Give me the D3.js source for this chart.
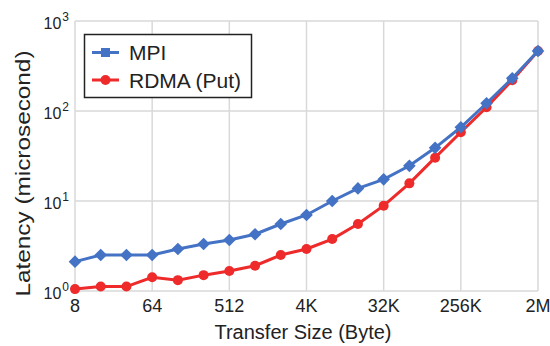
<!DOCTYPE html>
<html><head><meta charset="utf-8">
<script src="https://cdn.jsdelivr.net/npm/d3@7"></script>
<style>body{margin:0;background:#fff}svg{display:block;font-family:"Liberation Sans",Arial,sans-serif}</style>
</head><body><svg id="c" width="550" height="346"></svg>
<script>
const sizes = [8,16,32,64,128,256,512,1024,2048,4096,8192,16384,32768,65536,131072,262144,524288,1048576,2097152];
const mpi  = [2.12,2.51,2.51,2.51,2.93,3.33,3.69,4.27,5.55,6.99,10,13.8,17.4,24.6,39,66,122,231,464];
const rdma = [1.05,1.12,1.12,1.42,1.32,1.5,1.67,1.91,2.51,2.93,3.78,5.55,8.87,15.7,30.3,58,110,220,464];
const xTicks = [8,64,512,4096,32768,262144,2097152];
const xTickLabels = ["8","64","512","4K","32K","256K","2M"];
const yTicks = [1,10,100,1000];
const yExp = ["0","1","2","3"];
const seriesNames = ["MPI","RDMA (Put)"];

const svg = d3.select("#c");
const L=75,R=538,T=21,B=291;
const x = d3.scaleLog().base(2).domain([8,2097152]).range([L,R]);
const y = d3.scaleLog().domain([1,1000]).range([B,T]);
const grid="#d9d9d9", blue="#4472c4", red="#ee2a2a";

const g = svg.append("g");
g.selectAll(".vg").data(xTicks).enter().append("line")
  .attr("x1",d=>x(d)).attr("x2",d=>x(d)).attr("y1",T).attr("y2",B)
  .attr("stroke",grid).attr("stroke-width",1.5);
g.selectAll(".hg").data(yTicks).enter().append("line")
  .attr("x1",L).attr("x2",R).attr("y1",d=>y(d)).attr("y2",d=>y(d))
  .attr("stroke",grid).attr("stroke-width",1.5);

// x tick labels
g.selectAll(".xt").data(xTicks).enter().append("text")
  .attr("x",d=>x(d)).attr("y",312).attr("text-anchor","middle")
  .attr("font-size",18).attr("fill","#222").text((d,i)=>xTickLabels[i]);
// y tick labels
const yt = g.selectAll(".yt").data(yTicks).enter().append("text")
  .attr("x",60).attr("y",d=>y(d)+8).attr("text-anchor","end")
  .attr("font-size",16).attr("fill","#222");
yt.append("tspan").text("10");
yt.append("tspan").attr("font-size",12).attr("dy",-8).attr("dx",1).text((d,i)=>yExp[i]);
// fix anchor: place whole label ending at ~68
yt.attr("text-anchor","end").attr("x",69);

// axis titles
svg.append("text").attr("x",303).attr("y",339).attr("text-anchor","middle")
  .attr("font-size",20).attr("fill","#222").text("Transfer Size (Byte)");
svg.append("text").attr("transform","translate(29.5,173.5) rotate(-90)").attr("text-anchor","middle")
  .attr("font-size",21).attr("fill","#222").attr("textLength",246).attr("lengthAdjust","spacingAndGlyphs")
  .text("Latency (microsecond)");

const line = d3.line().x((d,i)=>x(sizes[i])).y(d=>y(d));
// RDMA first, MPI on top
svg.append("path").datum(rdma).attr("d",line).attr("fill","none").attr("stroke",red).attr("stroke-width",3);
svg.selectAll(".rc").data(rdma).enter().append("circle")
  .attr("cx",(d,i)=>x(sizes[i])).attr("cy",d=>y(d)).attr("r",5).attr("fill",red);
svg.append("path").datum(mpi).attr("d",line).attr("fill","none").attr("stroke",blue).attr("stroke-width",3);
const dsym = d3.symbol().type(d3.symbolSquare).size(80);
svg.selectAll(".md").data(mpi).enter().append("path")
  .attr("d",dsym).attr("fill",blue)
  .attr("transform",(d,i)=>`translate(${x(sizes[i])},${y(d)}) rotate(45)`);

// legend
const lg = svg.append("g");
lg.append("rect").attr("x",84.5).attr("y",34.5).attr("width",167).attr("height",63)
  .attr("fill","#fff").attr("stroke","#222").attr("stroke-width",1.5);
const lcols=[blue,red];
seriesNames.forEach((n,i)=>{
  const yy = 52.5 + i*27.5;
  lg.append("line").attr("x1",92).attr("x2",119).attr("y1",yy).attr("y2",yy).attr("stroke",lcols[i]).attr("stroke-width",3);
  if(i===0) lg.append("rect").attr("x",101).attr("y",yy-4.5).attr("width",9).attr("height",9).attr("fill",blue);
  else lg.append("circle").attr("cx",105.5).attr("cy",yy).attr("r",5).attr("fill",red);
  lg.append("text").attr("x",129).attr("y",yy+7.5).attr("font-size",21).attr("fill","#222").text(n);
});
</script></body></html>
